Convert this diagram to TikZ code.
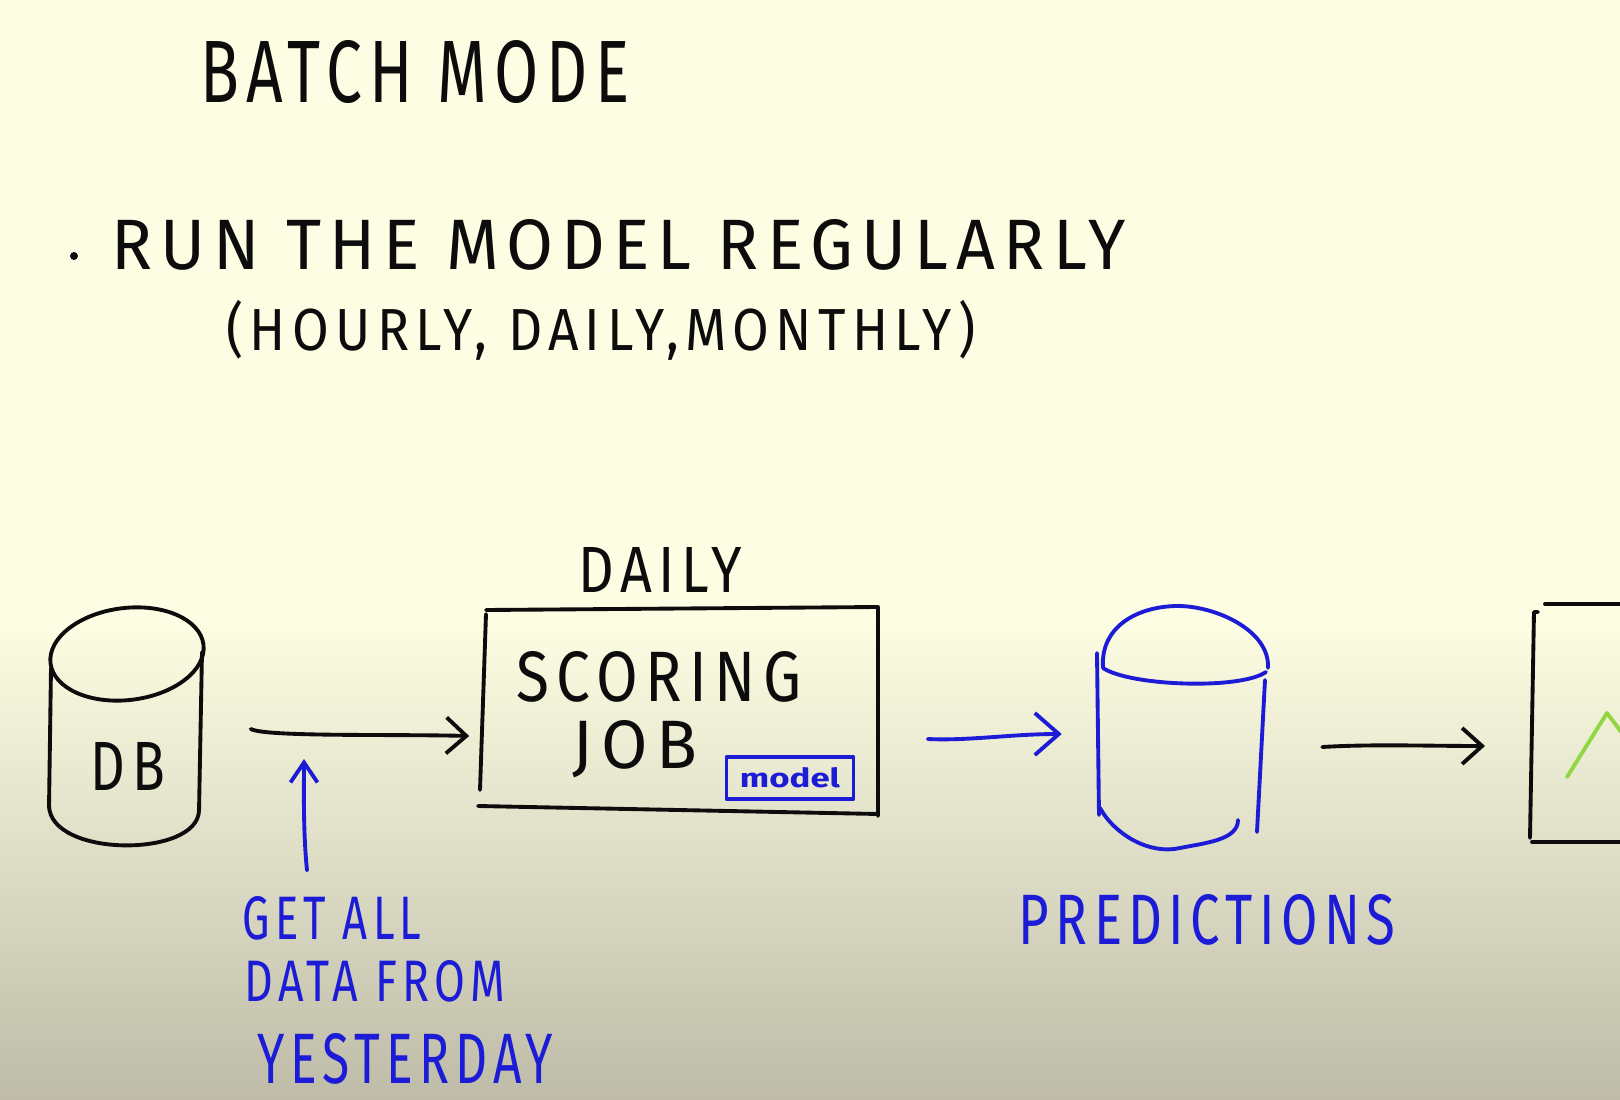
\documentclass[tikz,border=0pt]{standalone}
\usepackage{fontspec}
\usepackage{graphicx}
\usetikzlibrary{arrows.meta}
\newfontfamily\hand{Fira Sans}[LetterSpace=12]
\newfontfamily\handbold{Fira Sans}
\newcommand\handtext[3]{\resizebox{#1}{#2}{\hand #3}}
\definecolor{bgtop}{RGB}{253,253,227}
\definecolor{bgbot}{RGB}{190,188,168}
\definecolor{ink}{RGB}{12,12,12}
\definecolor{bluink}{RGB}{28,28,215}
\definecolor{greenink}{RGB}{145,215,65}
\begin{document}
\begin{tikzpicture}[x=0.01cm,y=-0.01cm]
\tikzset{
  pen/.style={line width=1.1pt, line cap=round, line join=round},
  blackpen/.style={pen, draw=ink},
  bluepen/.style={pen, draw=bluink},
  txt/.style={inner sep=0pt, text=ink},
  btxt/.style={inner sep=0pt, text=bluink},
  area/.style={inner sep=0pt, draw=none, rectangle},
  arr/.style={-{Straight Barb[length=0.2cm,width=0.36cm]}},
  barr/.style={-{Straight Barb[length=0.24cm,width=0.42cm]}},
  uparr/.style={-{Straight Barb[length=0.2cm,width=0.27cm]}},
}
\useasboundingbox (0,0) rectangle (1620,1100);
\fill[bgtop] (0,0) rectangle (1620,621);
\shade[top color=bgtop, bottom color=bgbot] (0,620) rectangle (1620,1100);

% texts at the top
\node[txt] (title) at (415,72) {\handtext{4.29cm}{0.62cm}{BATCH MODE}};
\fill[ink] (74,256) circle [radius=0.04cm];
\node[txt] (run) at (619,245) {\handtext{10.14cm}{0.5cm}{RUN THE MODEL REGULARLY}};
\node[txt] (freq) at (601,330) {\resizebox*{7.49cm}{0.6cm}{\hand (HOURLY, DAILY,MONTHLY)}};

% DB cylinder
\node[area, minimum width=1.56cm, minimum height=2.4cm] (db) at (127,727) {};
\draw[blackpen] (127,654) ellipse [x radius=0.77cm, y radius=0.46cm, rotate=7];
\draw[blackpen] (51,668) -- (49,808);
\draw[blackpen] (202,652) -- (199,812);
\draw[blackpen] (49,805) .. controls (49,858) and (199,858) .. (199,810);
\node[txt] (dblabel) at (128,766) {\handtext{0.74cm}{0.48cm}{DB}};

% scoring job box
\node[txt] (daily) at (660,570) {\handtext{1.63cm}{0.45cm}{DAILY}};
\node[area, minimum width=3.96cm, minimum height=2.09cm] (sj) at (680,711) {};
\draw[blackpen] (486,610) -- (878,607) -- (878,816);
\draw[blackpen] (478,806) -- (878,814);
\draw[blackpen] (486,614) -- (480,790);
\node[txt] (scoring) at (659,677) {\handtext{2.84cm}{0.5cm}{SCORING}};
\node[txt] (job) at (635,749) {\handtext{1.24cm}{0.48cm}{JOB}};
\node[bluepen, inner sep=0pt, minimum width=1.27cm, minimum height=0.42cm, text=bluink] (model) at (790,778)
  {\resizebox{1.0cm}{0.2cm}{\handbold\bfseries model}};

% predictions cylinder
\node[area, minimum width=1.75cm, minimum height=2.45cm] (pred) at (1182,728) {};
\draw[bluepen] (1103,668) .. controls (1100,625) and (1140,606) .. (1178,606)
  .. controls (1215,606) and (1270,630) .. (1268,668);
\draw[bluepen] (1103,668) .. controls (1130,686) and (1240,690) .. (1266,672);
\draw[bluepen] (1097,653) -- (1099,815);
\draw[bluepen] (1265,680) -- (1257,832);
\draw[bluepen] (1100,808) .. controls (1115,835) and (1150,855) .. (1180,848)
  .. controls (1205,843) and (1238,840) .. (1238,820);
\node[btxt] (predlabel) at (1207,920) {\handtext{3.76cm}{0.5cm}{PREDICTIONS}};

% dashboard (cut at the right edge)
\node[area, minimum width=0.9cm, minimum height=2.35cm, anchor=west] (dash) at (1532,723) {};
\draw[blackpen] (1538,612) -- (1534,612) -- (1530,838);
\draw[blackpen] (1545,604) -- (1625,604);
\draw[blackpen] (1532,842) -- (1625,842);
\draw[pen, draw=greenink] (1567,777) -- (1607,713) -- (1625,737);

% blue labels
\node[btxt] (getall) at (332,918) {\handtext{1.79cm}{0.43cm}{GET ALL}};
\node[btxt] (datafrom) at (375,981) {\handtext{2.61cm}{0.41cm}{DATA FROM}};
\node[btxt] (yesterday) at (405,1059) {\handtext{2.95cm}{0.5cm}{YESTERDAY}};
\coordinate (feed) at (304,759);

% connectors
\draw[blackpen, arr] ([shift={(45,2)}]db.east) .. controls +(15,8) and +(-80,-2) .. ([shift={(-12,25)}]sj.west);
\draw[bluepen, uparr] ([shift={(-25,-25)}]getall.north) .. controls +(-4,-40) and +(0,30) .. (feed);
\draw[bluepen, barr] ([shift={(49,28)}]sj.east) .. controls +(40,2) and +(-50,0) .. ([shift={(-32,6)}]pred.west);
\draw[blackpen, arr] ([shift={(52,19)}]pred.east) .. controls +(50,-3) and +(-60,0) .. ([shift={(-47,23)}]dash.west);
\end{tikzpicture}
\end{document}
